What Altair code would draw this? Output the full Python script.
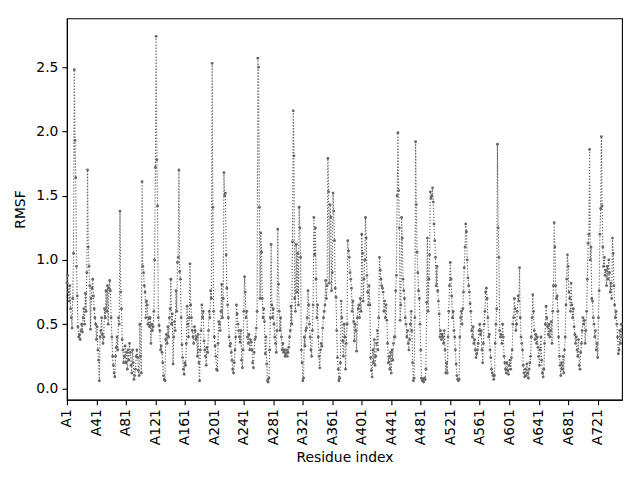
import altair as alt
import pandas as pd

# RMSF per residue (index 0 = A1)
rmsf = [
    0.82, 0.88, 0.75, 0.68, 0.80, 0.62, 0.55, 0.47, 0.70, 1.05,
    2.48, 1.93, 1.64, 0.95, 0.72, 0.48, 0.40, 0.42, 0.38, 0.45,
    0.50, 0.44, 0.55, 0.62, 0.50, 0.74, 0.60, 0.90, 1.70, 1.10,
    0.95, 0.80, 0.46, 0.70, 0.78, 0.85, 0.72, 0.62, 0.55, 0.50,
    0.38, 0.48, 0.30, 0.22, 0.06, 0.40, 0.45, 0.55, 0.42, 0.35,
    0.40, 0.62, 0.55, 0.76, 0.60, 0.80, 0.50, 0.78, 0.84, 0.76,
    0.55, 0.40, 0.25, 0.18, 0.12, 0.09, 0.25, 0.32, 0.40, 0.30,
    0.55, 0.50, 1.38, 0.75, 0.62, 0.38, 0.30, 0.20, 0.25, 0.33,
    0.20, 0.28, 0.15, 0.30, 0.22, 0.35, 0.28, 0.18, 0.12, 0.30,
    0.20, 0.07, 0.10, 0.15, 0.25, 0.30, 0.24, 0.14, 0.10, 0.50,
    0.25, 0.12, 1.61, 0.95, 0.90, 0.80, 0.75, 0.55, 0.68, 0.65,
    0.50, 0.55, 0.48, 0.55, 0.35, 0.50, 0.45, 0.48, 0.60, 1.00,
    1.72, 2.74, 1.78, 1.42, 0.55, 0.49, 0.45, 0.30, 0.33, 0.28,
    0.20, 0.10, 0.07, 0.06, 0.38, 0.42, 0.35, 0.48, 0.40, 0.55,
    0.62, 0.85, 0.50, 0.58, 0.19, 0.40, 0.52, 0.45, 0.76, 0.60,
    0.98, 1.02, 1.70, 0.91, 0.85, 0.55, 0.34, 0.24, 0.15, 0.11,
    0.20, 0.18, 0.35, 0.64, 0.50, 0.40, 0.55, 0.97, 0.65, 0.55,
    0.45, 0.40, 0.35, 0.48, 0.45, 0.38, 0.40, 0.25, 0.42, 0.20,
    0.06, 0.30, 0.45, 0.65, 0.55, 0.60, 0.37, 0.30, 0.25, 0.18,
    0.32, 0.28, 0.45, 0.60, 0.55, 0.76, 0.70, 2.53, 1.41, 0.60,
    0.40, 0.33, 0.25, 0.15, 0.14, 0.35, 0.52, 0.50, 0.45, 0.60,
    0.81, 0.55, 0.70, 1.68, 1.50, 1.52, 1.04, 0.78, 0.65, 0.55,
    0.40, 0.33, 0.35, 0.28, 0.22, 0.15, 0.12, 0.20, 0.30, 0.40,
    0.65, 0.58, 0.50, 0.45, 0.40, 0.36, 0.45, 0.22, 0.16, 0.30,
    0.60, 0.87, 0.75, 0.55, 0.60, 0.40, 0.35, 0.42, 0.30, 0.38,
    0.36, 0.30, 0.20, 0.16, 0.28, 0.38, 0.40, 0.47, 0.60, 2.57,
    2.50, 1.41, 0.70, 1.21, 1.06, 0.70, 0.55, 0.62, 0.52, 0.27,
    0.40, 0.19, 0.06, 0.05, 0.08, 0.30, 0.55, 1.12, 0.65, 0.55,
    0.62, 0.50, 0.40, 0.35, 0.28, 0.45, 1.24, 0.81, 0.60, 0.45,
    0.55, 0.40, 0.30, 0.35, 0.28, 0.30, 0.25, 0.27, 0.30, 0.25,
    0.28, 0.32, 0.40, 0.45, 0.64, 0.50, 1.14, 2.16, 1.81, 0.70,
    0.60, 1.12, 0.75, 1.05, 0.65, 1.41, 1.25, 1.02, 0.30, 0.20,
    0.06, 0.08, 0.40, 0.33, 0.45, 0.47, 0.55, 0.76, 0.65, 0.50,
    0.40, 0.30, 0.25, 0.45, 0.65, 1.33, 1.04, 1.25, 0.85, 0.55,
    0.65, 0.40, 0.25, 0.16, 0.30, 0.35, 0.33, 0.47, 0.55, 0.60,
    0.65, 0.84, 0.70, 0.80, 1.79, 1.53, 0.82, 1.43, 1.33, 0.76,
    0.90, 1.52, 1.38, 1.15, 0.78, 0.71, 0.45, 0.24, 0.15, 0.06,
    0.08, 0.20, 0.68, 0.55, 0.37, 0.25, 0.50, 0.40, 0.15, 0.35,
    0.50, 1.15, 1.07, 1.02, 0.90, 0.85, 0.78, 0.60, 0.68, 0.52,
    0.37, 0.50, 0.45, 0.29, 0.55, 0.62, 0.65, 0.55, 0.70, 0.60,
    1.20, 1.05, 0.68, 0.85, 1.00, 1.33, 1.17, 0.88, 0.75, 0.65,
    0.80, 0.65, 0.24, 0.14, 0.09, 0.30, 0.20, 0.38, 0.18, 0.25,
    0.35, 0.45, 0.30, 0.55, 1.02, 0.92, 0.85, 0.80, 0.78, 0.75,
    0.60, 0.68, 0.55, 0.65, 0.53, 0.35, 0.20, 0.25, 0.15, 0.28,
    0.12, 0.30, 0.22, 0.35, 0.40, 0.40, 0.76, 0.88, 1.50, 1.99,
    1.54, 1.25, 0.53, 0.65, 1.33, 1.17, 0.85, 0.76, 0.70, 0.55,
    0.50, 0.40, 0.45, 0.35, 0.30, 0.38, 0.50, 0.60, 0.45, 0.20,
    0.06, 0.08, 0.55, 1.92, 1.43, 1.06, 0.90, 0.76, 0.70, 0.50,
    0.30, 0.08, 0.06, 0.07, 0.05, 0.08, 0.07, 0.15, 0.67, 1.17,
    0.60, 0.85, 1.04, 1.53, 1.48, 1.50, 1.56, 1.45, 1.28, 1.15,
    1.02, 0.80, 0.95, 0.76, 0.68, 0.58, 0.40, 0.45, 0.38, 0.42,
    0.40, 0.35, 0.45, 0.30, 0.12, 0.20, 0.12, 0.40, 0.60, 0.80,
    0.98, 0.85, 0.72, 0.55, 0.60, 0.45, 0.40, 0.30, 0.19, 0.10,
    0.07, 0.06, 0.07, 0.40, 0.55, 0.60, 0.50, 0.62, 0.75, 0.94,
    1.10, 1.28, 1.22, 1.00, 0.86, 0.80, 0.75, 0.66, 0.60, 0.45,
    0.40, 0.48, 0.35, 0.38, 0.30, 0.24, 0.27, 0.30, 0.35, 0.45,
    0.50, 0.42, 0.45, 0.30, 0.20, 0.35, 0.50, 0.60, 0.75, 0.78,
    0.70, 0.55, 0.40, 0.42, 0.30, 0.24, 0.15, 0.12, 0.10, 0.07,
    0.10, 0.35, 0.50, 0.62, 1.90, 1.25, 1.02, 0.45, 0.40, 0.42,
    0.35, 0.50, 0.40, 0.25, 0.20, 0.15, 0.12, 0.20, 0.14, 0.11,
    0.18, 0.22, 0.15, 0.24, 0.30, 0.50, 0.55, 0.70, 0.62, 0.45,
    0.50, 0.60, 0.72, 0.68, 0.94, 0.55, 0.40, 0.35, 0.30, 0.18,
    0.12, 0.09, 0.15, 0.10, 0.19, 0.12, 0.08, 0.15, 0.20, 0.25,
    0.40, 0.55, 0.73, 0.60, 0.45, 0.38, 0.42, 0.35, 0.40, 0.32,
    0.25, 0.18, 0.30, 0.40, 0.22, 0.12, 0.09, 0.15, 0.35, 0.50,
    0.64, 0.55, 0.48, 0.42, 0.50, 0.40, 0.45, 0.52, 0.35, 0.60,
    0.80, 1.29, 1.10, 0.80, 0.70, 0.72, 0.60, 0.40, 0.25, 0.18,
    0.10, 0.20, 0.15, 0.25, 0.12, 0.30, 0.40, 0.65, 0.85, 1.04,
    0.95, 0.75, 0.70, 0.60, 0.82, 0.65, 0.55, 0.62, 0.48, 0.42,
    0.35, 0.40, 0.30, 0.25, 0.38, 0.18, 0.15, 0.28, 0.35, 0.45,
    0.55, 0.50, 0.53, 0.35, 0.45, 0.60, 0.85, 1.13, 1.20, 1.86,
    1.00, 1.10, 0.70, 0.68, 0.55, 0.50, 0.40, 0.45, 0.30, 0.35,
    0.24, 0.55, 0.76, 1.20, 1.40, 1.96, 1.42, 1.10, 0.95, 1.02,
    0.88, 0.92, 0.80, 0.95, 0.85, 1.00, 0.90, 0.75, 0.82, 0.70,
    1.17, 1.05, 0.80, 0.65, 0.55, 0.60, 0.50, 0.40, 0.27, 0.30,
    0.45, 0.35, 0.50, 0.40,
]

tick_values = list(range(0, 721, 40))

df = pd.DataFrame({"idx": list(range(len(rmsf))), "rmsf": rmsf})
last = len(rmsf) - 1

FONT = "DejaVu Sans"
COLOR = "#666666"

x = alt.X(
    "idx:Q",
    scale=alt.Scale(domain=[0, last], nice=False, zero=False),
    axis=alt.Axis(
        title="Residue index",
        values=tick_values,
        labelExpr="'A' + (datum.value + 1)",
        labelAngle=-90,
        labelAlign="right",
        labelBaseline="middle",
        labelPadding=4,
        titlePadding=6,
        grid=False,
        tickSize=5,
        labelFlush=False,
        labelOverlap=False,
    ),
)
y = alt.Y(
    "rmsf:Q",
    scale=alt.Scale(domain=[-0.088, 2.88], nice=False, zero=False),
    axis=alt.Axis(
        title="RMSF",
        values=[0, 0.5, 1.0, 1.5, 2.0, 2.5],
        format=".1f",
        grid=False,
        tickSize=5,
        labelPadding=4,
        titlePadding=8,
    ),
)

line = alt.Chart(df).mark_line(
    color=COLOR, strokeWidth=1.1, strokeDash=[1.3, 1.7]
).encode(x=x, y=y)
pts = alt.Chart(df).mark_point(
    filled=True, color=COLOR, size=8, opacity=1
).encode(x=x, y=y)

chart = (
    alt.layer(line, pts)
    .properties(
        width=556,
        height=382,
        autosize=alt.AutoSizeParams(type="none"),
        padding={"left": 59, "top": 10, "right": 10, "bottom": 70},
    )
    .configure_view(stroke="black", strokeWidth=1.1)
    .configure_axis(
        labelFont=FONT,
        titleFont=FONT,
        labelFontSize=13.9,
        titleFontSize=13.9,
        titleFontWeight="normal",
        labelColor="black",
        titleColor="black",
        domainColor="black",
        tickColor="black",
        domainWidth=1.1,
        tickWidth=1.1,
    )
)

chart.save("out.html", embed_options={"renderer": "svg", "actions": False})
